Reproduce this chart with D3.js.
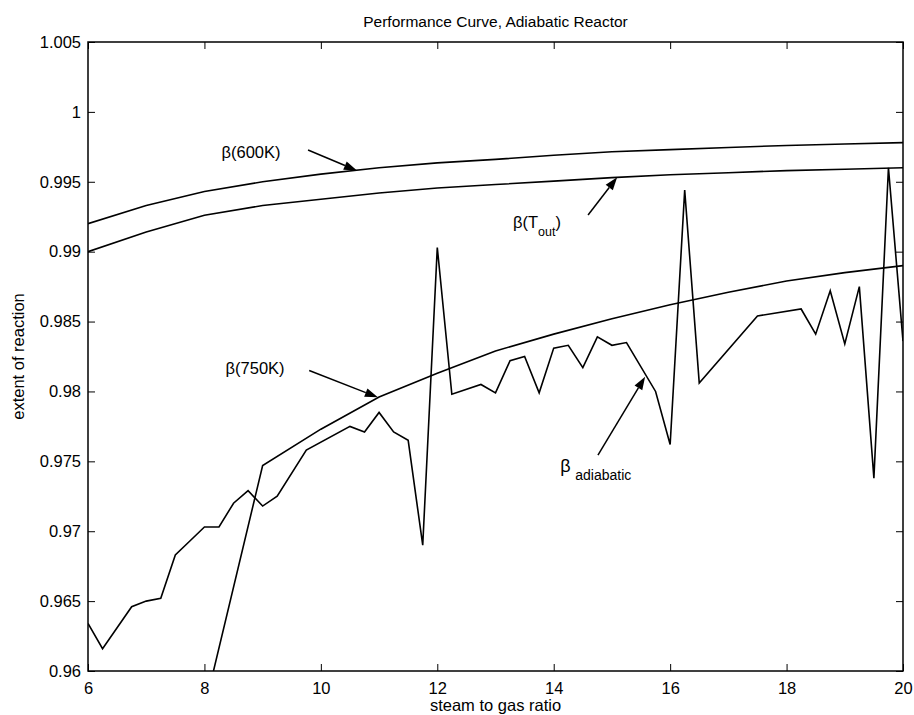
<!DOCTYPE html>
<html><head><meta charset="utf-8">
<script src="https://cdn.jsdelivr.net/npm/d3@7/dist/d3.min.js"></script>
<style>
body{margin:0;background:#fff}
text{font-family:"Liberation Sans",Arial,Helvetica,sans-serif;fill:#000}
</style>
</head><body><svg id="c" width="914" height="715"></svg>
<script>
// ---- data ----
const xTicks = [6, 8, 10, 12, 14, 16, 18, 20];
const xTickLabels = ["6", "8", "10", "12", "14", "16", "18", "20"];
const yTicks = [0.96, 0.965, 0.97, 0.975, 0.98, 0.985, 0.99, 0.995, 1.0, 1.005];
const yTickLabels = ["0.96", "0.965", "0.97", "0.975", "0.98", "0.985", "0.99", "0.995", "1", "1.005"];

const smoothX = [6, 7, 8, 9, 10, 11, 12, 13, 14, 15, 16, 17, 18, 19, 20];
const beta600 = [0.9920, 0.9933, 0.9943, 0.9950, 0.99555, 0.9960, 0.99635, 0.9966, 0.9969, 0.99715, 0.9973, 0.99745, 0.9976, 0.9977, 0.9978];
const betaTout = [0.9900, 0.9914, 0.9926, 0.9933, 0.99375, 0.9942, 0.99455, 0.9948, 0.99505, 0.9953, 0.9955, 0.99565, 0.9958, 0.9959, 0.9960];

const x750 = [8, 9, 10, 11, 12, 13, 14, 15, 16, 17, 18, 19, 20];
const beta750 = [0.9573, 0.9747, 0.9773, 0.9796, 0.9813, 0.9829, 0.9841, 0.9852, 0.9862, 0.9871, 0.9879, 0.9885, 0.9890];

const adiaX = [6, 6.25, 6.75, 7, 7.25, 7.5, 7.75, 8, 8.25, 8.5, 8.75, 9, 9.25, 9.75, 10.5, 10.75, 11, 11.25, 11.5, 11.75,
  12, 12.25, 12.75, 13, 13.25, 13.5, 13.75, 14, 14.25, 14.5, 14.75, 15, 15.25, 15.75, 16, 16.25, 16.5, 17.5, 18.25,
  18.5, 18.75, 19, 19.25, 19.5, 19.75, 20];
const adiaY = [0.9634, 0.9616, 0.9646, 0.9650, 0.9652, 0.9683, 0.9693, 0.9703, 0.9703, 0.9720, 0.9729, 0.9718, 0.9725, 0.9758, 0.9775, 0.9771, 0.9785, 0.9771, 0.9765, 0.9690,
  0.9903, 0.9798, 0.9805, 0.9799, 0.9822, 0.9825, 0.9799, 0.9831, 0.9833, 0.9817, 0.9839, 0.9833, 0.9835, 0.9800, 0.9762, 0.9944, 0.9806, 0.9854, 0.9859,
  0.9841, 0.9872, 0.9834, 0.9875, 0.9738, 0.9960, 0.9836];

// annotation arrows (data units): from -> to
const arrows = [
  {x1: 9.78, y1: 0.99727, x2: 10.62, y2: 0.99580},
  {x1: 14.59, y1: 0.99262, x2: 15.09, y2: 0.99533},
  {x1: 9.80, y1: 0.98150, x2: 10.98, y2: 0.97958},
  {x1: 14.76, y1: 0.97545, x2: 15.57, y2: 0.98105}
];

// ---- layout ----
const W = 914, H = 715;
const m = {l: 88, r: 11, t: 42, b: 44};
const svg = d3.select("#c");
const x = d3.scaleLinear().domain([6, 20]).range([m.l, W - m.r]);
const y = d3.scaleLinear().domain([0.96, 1.005]).range([H - m.b, m.t]);

svg.append("defs").append("clipPath").attr("id", "clip")
  .append("rect").attr("x", m.l).attr("y", m.t).attr("width", W - m.l - m.r).attr("height", H - m.t - m.b);

const TS = 7, FS = 16.5;
function styleAxis(g) {
  g.select(".domain").remove();
  g.selectAll(".tick line").attr("stroke", "#000").attr("stroke-width", 1);
  g.selectAll(".tick text").style("font-size", FS + "px").attr("fill", "#000");
}
svg.append("g").attr("transform", `translate(0,${H - m.b})`)
  .call(d3.axisBottom(x).tickValues(xTicks).tickFormat((d, i) => xTickLabels[i]).tickSizeInner(-TS).tickSizeOuter(0).tickPadding(11))
  .call(styleAxis);
svg.append("g").attr("transform", `translate(${m.l},0)`)
  .call(d3.axisLeft(y).tickValues(yTicks).tickFormat((d, i) => yTickLabels[i]).tickSizeInner(-TS).tickSizeOuter(0).tickPadding(7))
  .call(styleAxis);
svg.append("g").attr("transform", `translate(0,${m.t})`)
  .call(d3.axisTop(x).tickValues(xTicks).tickFormat("").tickSizeInner(-TS).tickSizeOuter(0))
  .call(styleAxis);
svg.append("g").attr("transform", `translate(${W - m.r},0)`)
  .call(d3.axisRight(y).tickValues(yTicks).tickFormat("").tickSizeInner(-TS).tickSizeOuter(0))
  .call(styleAxis);

svg.append("rect").attr("x", m.l).attr("y", m.t).attr("width", W - m.l - m.r).attr("height", H - m.t - m.b)
  .attr("fill", "none").attr("stroke", "#000").attr("stroke-width", 1.5);

// ---- lines ----
const line = d3.line().x(d => x(d[0])).y(d => y(d[1]));
const plot = svg.append("g").attr("clip-path", "url(#clip)");
const series = [
  d3.zip(smoothX, beta600),
  d3.zip(smoothX, betaTout),
  d3.zip(x750, beta750),
  d3.zip(adiaX, adiaY)
];
plot.selectAll("path.s").data(series).join("path").attr("class", "s")
  .attr("d", line).attr("fill", "none").attr("stroke", "#000").attr("stroke-width", 1.6)
  .attr("stroke-linejoin", "miter");

// ---- arrows ----
arrows.forEach(a => {
  const X1 = x(a.x1), Y1 = y(a.y1), X2 = x(a.x2), Y2 = y(a.y2);
  const ang = Math.atan2(Y2 - Y1, X2 - X1);
  const L = 13, Wd = 4.5;
  const bx = X2 - L * Math.cos(ang), by = Y2 - L * Math.sin(ang);
  svg.append("line").attr("x1", X1).attr("y1", Y1).attr("x2", bx).attr("y2", by)
    .attr("stroke", "#000").attr("stroke-width", 1.5);
  const p = [[X2, Y2],
    [bx + Wd * Math.sin(ang), by - Wd * Math.cos(ang)],
    [bx - Wd * Math.sin(ang), by + Wd * Math.cos(ang)]];
  svg.append("path").attr("d", "M" + p.join("L") + "Z").attr("fill", "#000");
});

// ---- labels ----
svg.append("text").attr("x", x(8.80)).attr("y", y(0.99672)).attr("text-anchor", "middle")
  .style("font-size", "16.5px").text("β(600K)");
svg.append("text").attr("x", x(8.87)).attr("y", y(0.98125)).attr("text-anchor", "middle")
  .style("font-size", "16.5px").text("β(750K)");
const tOut = svg.append("text").attr("x", x(13.30)).attr("y", y(0.99169)).style("font-size", "16.5px");
tOut.append("tspan").text("β(T");
tOut.append("tspan").attr("dy", 8).style("font-size", "12.5px").text("out");
tOut.append("tspan").attr("dy", -8).text(")");
svg.append("text").attr("x", x(14.20)).attr("y", y(0.97424)).attr("text-anchor", "middle")
  .style("font-size", "18px").text("β");
svg.append("text").attr("x", x(14.37)).attr("y", y(0.97366))
  .style("font-size", "14px").text("adiabatic");

svg.append("text").attr("x", (m.l + W - m.r) / 2).attr("y", 27).attr("text-anchor", "middle")
  .style("font-size", "15.5px").text("Performance Curve, Adiabatic Reactor");
svg.append("text").attr("x", (m.l + W - m.r) / 2).attr("y", 711).attr("text-anchor", "middle")
  .style("font-size", "16.5px").text("steam to gas ratio");
svg.append("text").attr("transform", `translate(24,${(m.t + H - m.b) / 2}) rotate(-90)`)
  .attr("text-anchor", "middle").style("font-size", "16.5px").text("extent of reaction");
</script>
</body></html>
